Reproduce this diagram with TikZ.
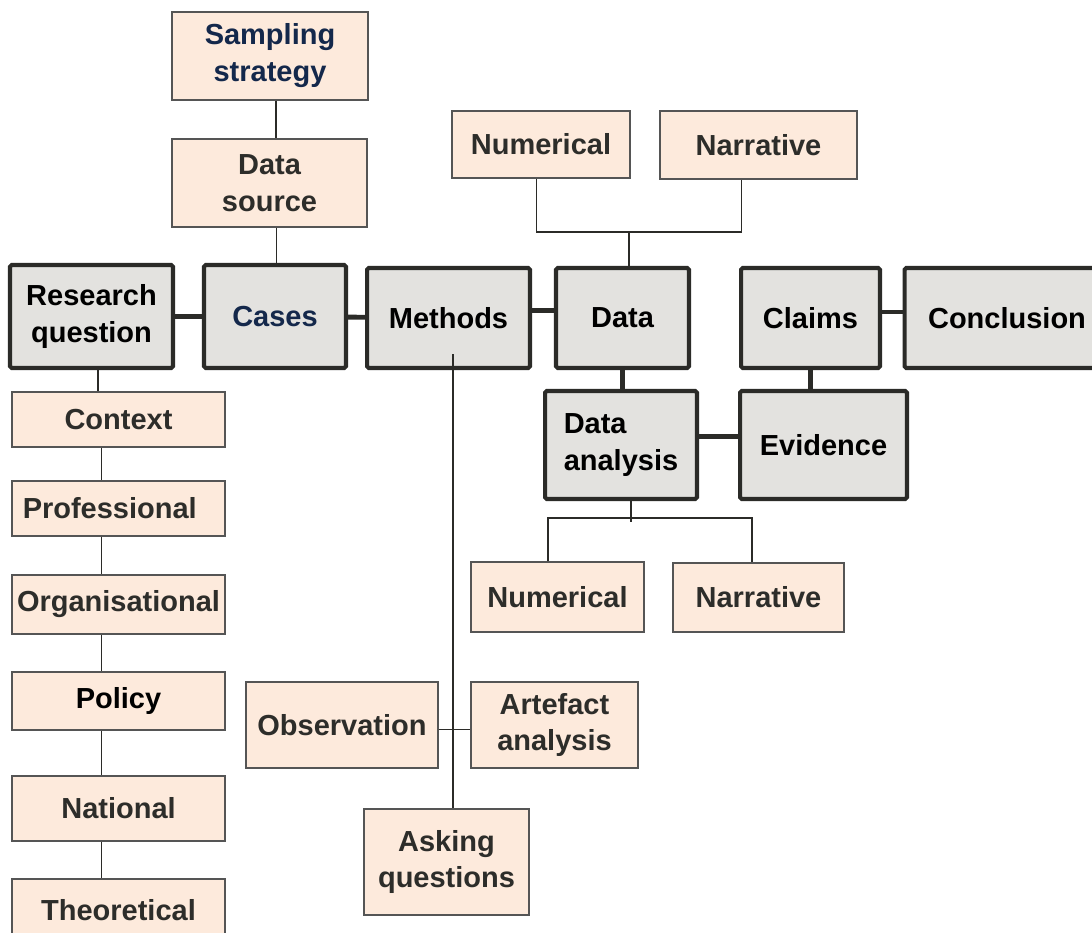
\documentclass[tikz,border=0pt]{standalone}
\usepackage{fontspec}
\setmainfont{Liberation Sans}
\usepackage{tikz}
\usepackage{xcolor}
\definecolor{stagegray}{RGB}{227,226,223}
\definecolor{stageedge}{RGB}{43,43,40}
\definecolor{aspectfill}{RGB}{253,234,220}
\definecolor{aspectedge}{RGB}{85,85,85}
\definecolor{labelnavy}{RGB}{20,40,75}
\definecolor{labeldark}{RGB}{45,45,42}

\begin{document}
\begin{tikzpicture}[
    x=0.02cm, y=-0.02cm,
    stage/.style={rectangle, rounded corners=1pt, draw=stageedge, line width=2.3pt, fill=stagegray, inner sep=0pt, align=center, font=\fontsize{16.5}{21}\selectfont\bfseries},
    aspect/.style={rectangle, draw=aspectedge, line width=0.7pt, fill=aspectfill, inner sep=0pt, align=center, text=labeldark, font=\fontsize{16.5}{21}\selectfont\bfseries},
    link/.style={draw=stageedge, line width=2.8pt},
    twig/.style={draw=stageedge, line width=0.6pt}
]
\useasboundingbox (0,0) rectangle (1092,933);
\clip (0,0) rectangle (1092,933);

% main stages
\node[stage, minimum width=3.26cm, minimum height=2.06cm] (rq) at (91.5, 316.5) {Research\\question};
\node[stage, minimum width=2.84cm, minimum height=2.06cm, text=labelnavy] (cases) at (275, 316.5) {Cases};
\node[stage, minimum width=3.26cm, minimum height=2.0cm] (methods) at (448.5, 318) {Methods};
\node[stage, minimum width=2.66cm, minimum height=2.0cm] (data) at (622.5, 318) {Data};
\node[stage, minimum width=2.78cm, minimum height=2.0cm] (claims) at (810.5, 318) {Claims};
\node[stage, minimum width=4.1cm, minimum height=2.0cm] (concl) at (1007, 318) {Conclusion};
\node[stage, minimum width=3.04cm, minimum height=2.16cm, align=left] (analysis) at (621, 445) {Data\\analysis};
\node[stage, minimum width=3.34cm, minimum height=2.16cm] (evidence) at (823.5, 445) {Evidence};

% cases branch
\node[aspect, minimum width=3.92cm, minimum height=1.76cm, text=labelnavy] (sampling) at (270, 56) {Sampling\\strategy};
\node[aspect, minimum width=3.9cm, minimum height=1.76cm] (source) at (269.5, 183) {Data\\source};

% data branch
\node[aspect, minimum width=3.56cm, minimum height=1.34cm] (numtop) at (541, 144.5) {Numerical};
\node[aspect, minimum width=3.94cm, minimum height=1.36cm] (nartop) at (758.5, 145) {Narrative};

% context column
\node[aspect, minimum width=4.26cm, minimum height=1.1cm] (context) at (118.5, 419.5) {Context};
\node[aspect, minimum width=4.26cm, minimum height=1.1cm] (prof) at (118.5, 508.5) {\hspace*{-0.35cm}Professional};
\node[aspect, minimum width=4.26cm, minimum height=1.18cm] (org) at (118.5, 604.5) {Organisational};
\node[aspect, minimum width=4.26cm, minimum height=1.16cm, text=black] (policy) at (118.5, 701) {Policy};
\node[aspect, minimum width=4.26cm, minimum height=1.3cm] (national) at (118.5, 808.5) {National};
\node[aspect, minimum width=4.26cm, minimum height=1.24cm] (theo) at (118.5, 910) {Theoretical};

% analysis branch
\node[aspect, minimum width=3.46cm, minimum height=1.4cm] (numbot) at (557.5, 597) {Numerical};
\node[aspect, minimum width=3.42cm, minimum height=1.38cm] (narbot) at (758.5, 597.5) {Narrative};

% methods branch
\node[aspect, minimum width=3.84cm, minimum height=1.72cm] (obs) at (342, 725) {Observation};
\node[aspect, minimum width=3.34cm, minimum height=1.72cm] (artefact) at (554.5, 725) {Artefact\\analysis};
\node[aspect, minimum width=3.3cm, minimum height=2.12cm] (asking) at (446.5, 862) {Asking\\questions};

% joints
\coordinate (djoin) at (629, 232);
\coordinate (ajoin) at (631, 518);
\coordinate (astub) at (631, 522);
\coordinate (mstart) at (453, 354);

% main chain
\draw[link] (rq) -- (cases);
\draw[link] (cases) -- (methods);
\draw[link] ([yshift=4.5pt]methods.east) -- ([yshift=4.5pt]data.west);
\draw[link] ([yshift=3.4pt]claims.east) -- ([yshift=3.4pt]concl.west);
\draw[link] (data.south) -- (data.south |- analysis.north);
\draw[link] (claims.south) -- (claims.south |- evidence.north);
\draw[link] ([yshift=5.1pt]analysis.east) -- ([yshift=5.1pt]evidence.west);

% cases branch
\draw[twig] ([xshift=3.4pt]sampling.south) -- ([xshift=3.4pt]sampling.south |- source.north);
\draw[twig] ([xshift=4.2pt]source.south) -- ([xshift=4.2pt]source.south |- cases.north);

% data branch
\draw[twig] (data.north -| djoin) -- (djoin);
\draw[twig] ([xshift=-2.8pt]numtop.south) |- (djoin) -| ([xshift=-9.9pt]nartop.south);

% context column
\draw[twig] ([xshift=3.7pt]rq.south) -- ([xshift=3.7pt]rq.south |- context.north);
\foreach \a/\b in {context/prof, prof/org, org/policy, policy/national, national/theo}
    \draw[twig] ([xshift=-9.9pt]\a.south) -- ([xshift=-9.9pt]\b.north);

% analysis branch
\draw[twig] (analysis.south -| astub) -- (astub);
\draw[twig] ([xshift=-5.4pt]numbot.north) |- (ajoin) -| ([xshift=-3.7pt]narbot.north);

% methods branch
\draw[twig] (mstart) -- (mstart |- asking.north);
\draw[twig] ([yshift=-2.8pt]obs.east) -- ([yshift=-2.8pt]artefact.west);
\end{tikzpicture}
\end{document}
